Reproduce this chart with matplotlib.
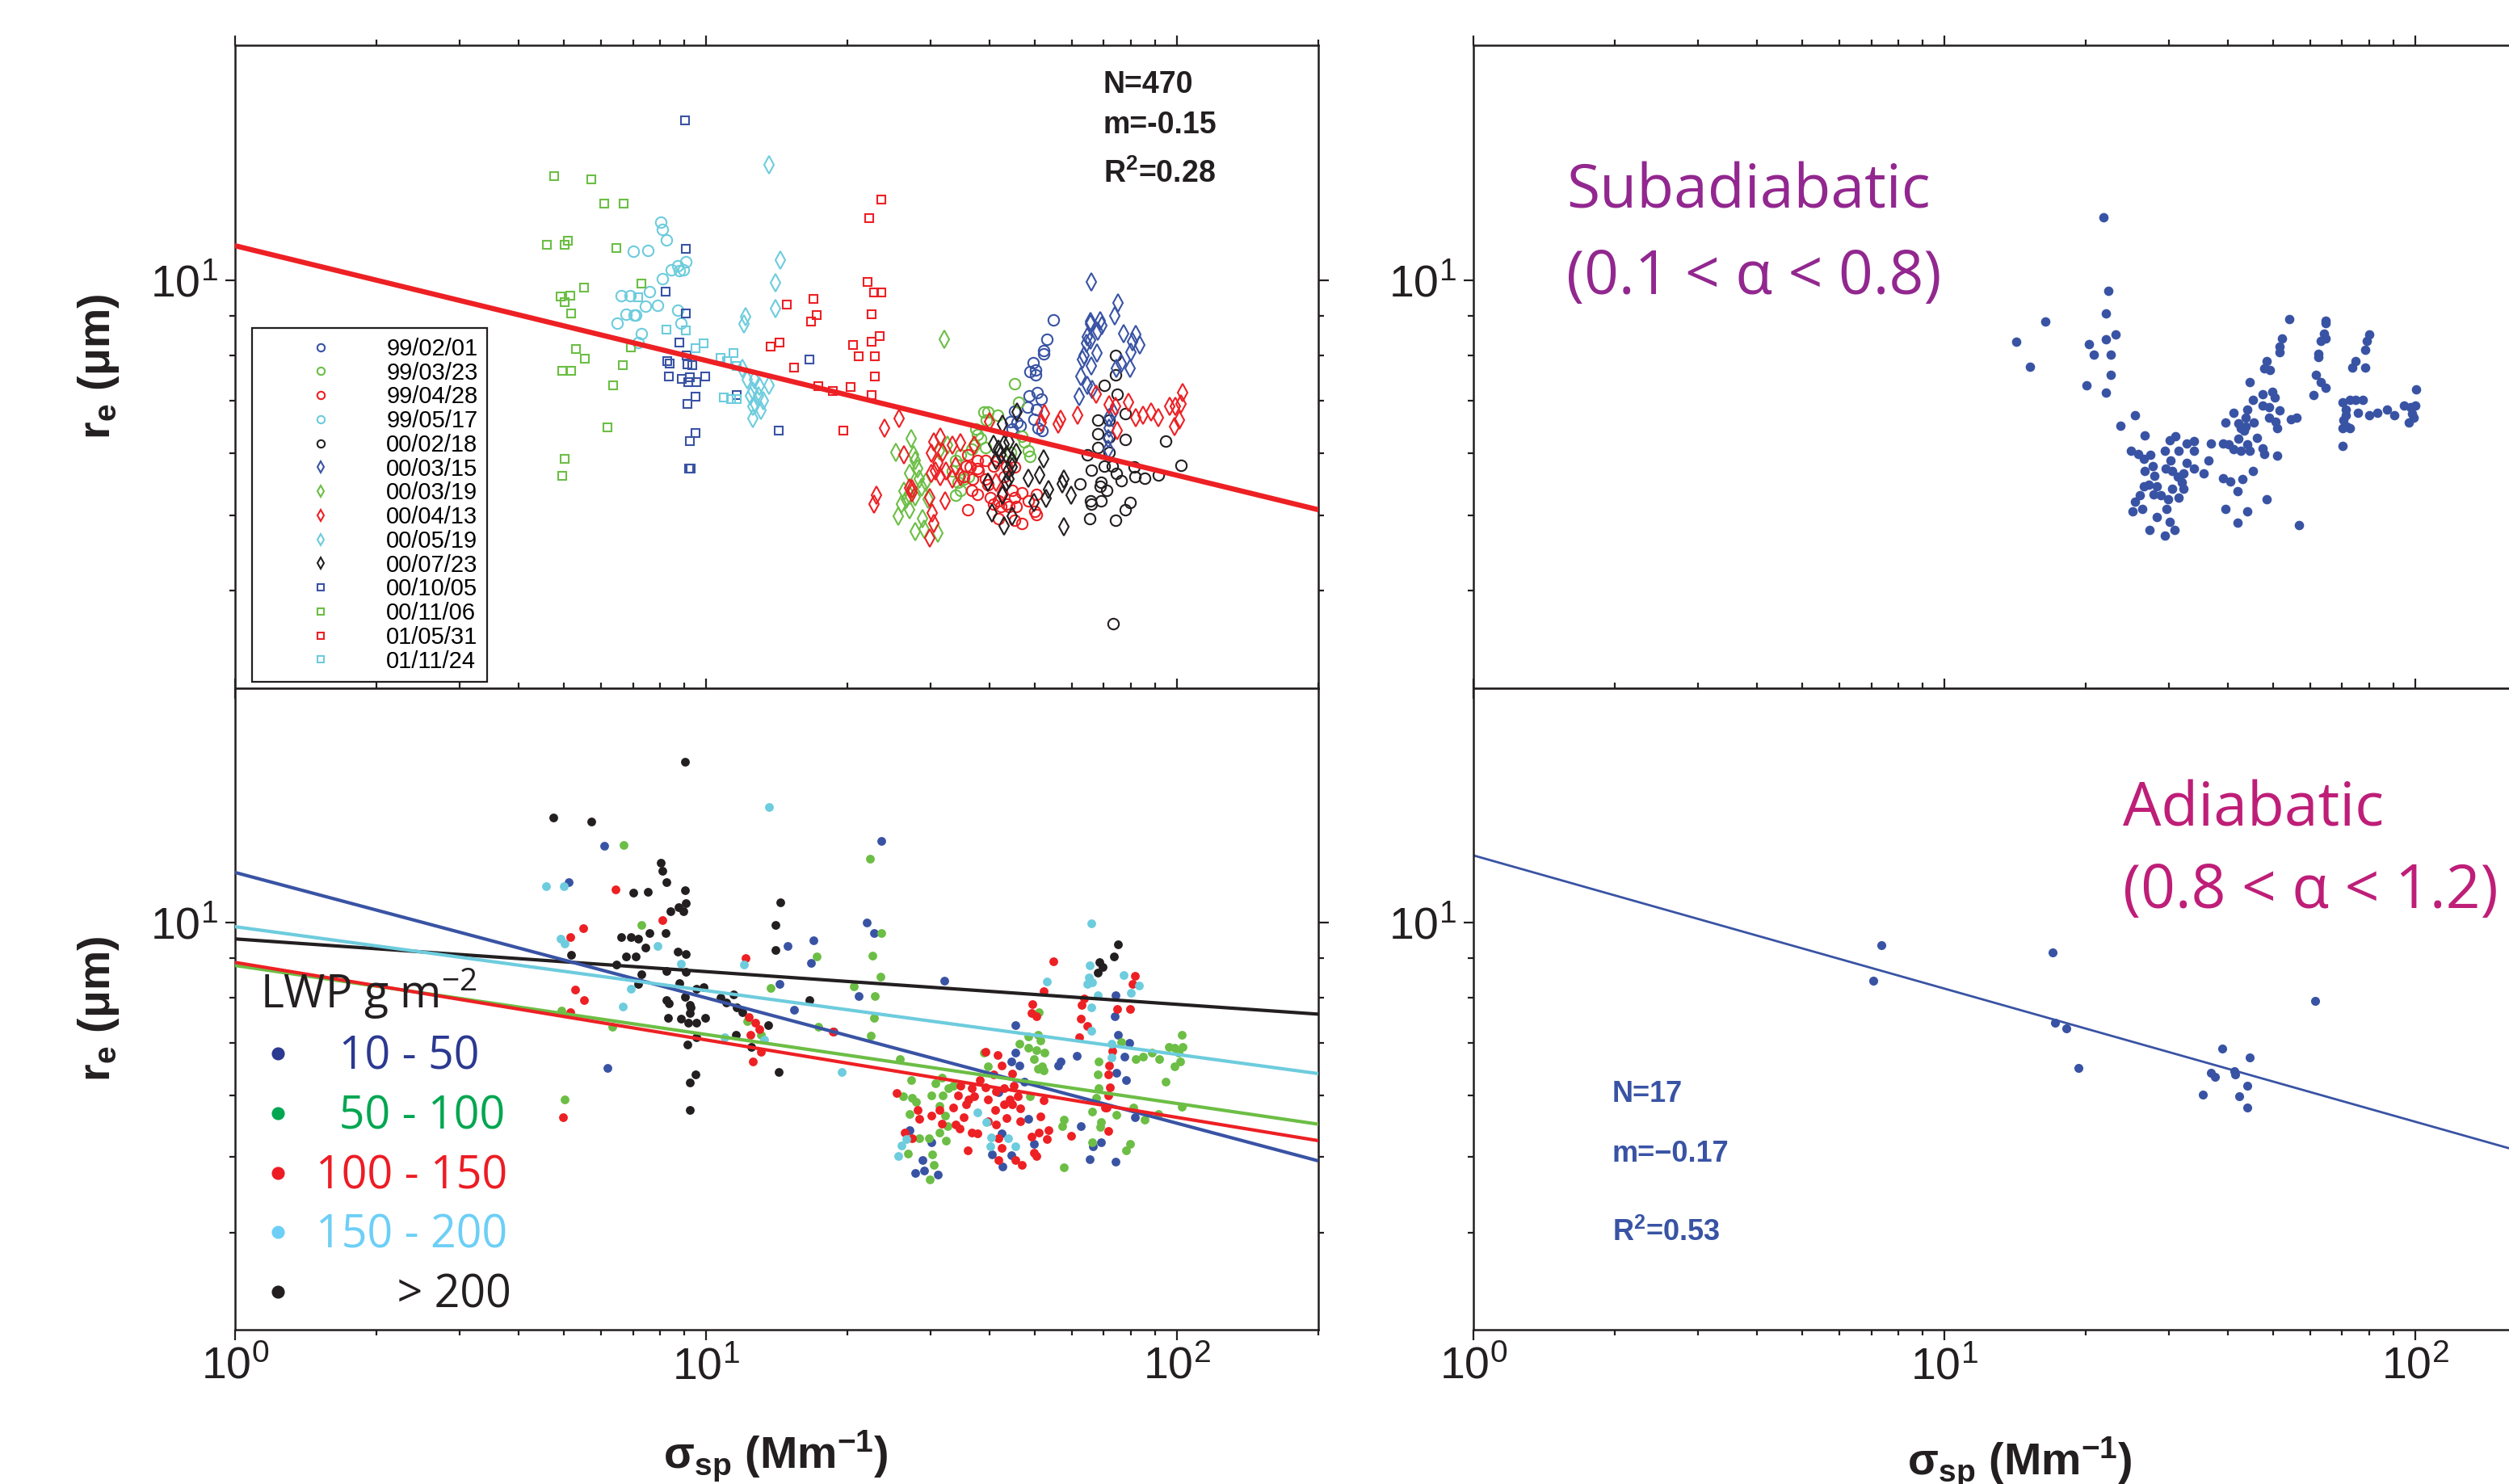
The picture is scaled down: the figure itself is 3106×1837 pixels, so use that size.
import matplotlib
matplotlib.use('Agg')
import matplotlib.pyplot as plt
from matplotlib.ticker import FixedLocator, FixedFormatter, NullFormatter
from matplotlib.lines import Line2D

plt.rcParams['mathtext.default'] = 'regular'

BLUE = '#3953A4'
GREEN = '#6CBE45'
RED = '#ED2024'
CYAN = '#6DCCDD'
BLACK = '#231F20'

# ---------------- axes scales ----------------
x_major = [1, 10, 100]
x_minor = [2, 3, 4, 5, 6, 7, 8, 9, 20, 30, 40, 50, 60, 70, 80, 90, 200]
x_tick_labels = ['$10^{0}$', '$10^{1}$', '$10^{2}$']
y_major = [10]
y_minor = [4, 5, 6, 7, 8, 9]
y_tick_labels = ['$10^{1}$']

# ---------------- top-left: flight days (sigma_sp, r_e) ----------------
d990201 = [(54.7, 8.90), (53.1, 8.39), (52.2, 8.12), (52.2, 8.04), (49.5, 7.84), (48.9, 7.64),
           (50.2, 7.67), (50.2, 7.56), (48.6, 7.11), (50.6, 7.17), (51.6, 7.04), (48.3, 6.87),
           (50.4, 6.82), (45.3, 6.79), (49.7, 6.63), (44.4, 6.59), (45.9, 6.57), (46.5, 6.51),
           (51.7, 6.41), (50.7, 6.46), (44.7, 6.44)]
d990323 = [(45.3, 7.36), (46.2, 6.97), (38.9, 6.78), (39.7, 6.78), (41.6, 6.72), (39.5, 6.62),
           (37.4, 6.44), (37.7, 6.34), (38.4, 6.26), (37.2, 6.14), (36.7, 6.07), (39.2, 6.11),
           (47.5, 6.21), (48.4, 6.04), (48.9, 5.95), (44.4, 6.02), (34.8, 5.97), (33.9, 5.88),
           (33.4, 5.69), (34.4, 5.51), (35.3, 5.56), (36.2, 5.60), (34.8, 5.38), (33.9, 5.30),
           (46.9, 6.31)]
d990428 = [(36.0, 5.97), (35.7, 5.78), (36.5, 5.76), (37.7, 5.74), (39.2, 5.88), (40.8, 5.78),
           (36.9, 5.56), (35.3, 5.60), (37.9, 5.69), (39.2, 5.56), (36.7, 5.38), (37.7, 5.32),
           (39.7, 5.47), (40.2, 5.26), (41.9, 5.22), (43.6, 5.17), (45.3, 5.26), (46.9, 5.34),
           (44.7, 5.38), (40.8, 5.16), (42.4, 5.13), (44.1, 5.13), (45.6, 5.13), (48.4, 5.22),
           (50.4, 5.32), (50.0, 5.05), (50.4, 5.01), (36.0, 5.08), (41.9, 4.95), (45.3, 4.93),
           (46.9, 4.88), (41.6, 5.88), (43.6, 5.78), (45.3, 5.76), (43.0, 5.60), (37.7, 5.88)]
d990517 = [(8.02, 11.87), (8.08, 11.61), (8.26, 11.25), (7.01, 10.90), (7.54, 10.91), (9.07, 10.56),
           (8.73, 10.43), (8.45, 10.30), (8.77, 10.29), (8.96, 10.30), (8.08, 10.04), (7.58, 9.66),
           (6.60, 9.55), (6.90, 9.55), (7.45, 9.26), (7.89, 9.29), (8.72, 9.15), (6.76, 9.04),
           (7.04, 9.03), (7.10, 9.03), (6.48, 8.81), (8.86, 8.81), (7.30, 8.55), (7.18, 8.32)]
d000218 = [(74.1, 8.01), (74.1, 7.56), (70.1, 7.33), (74.9, 7.15), (77.9, 6.74), (68.1, 6.62),
           (71.8, 6.62), (67.9, 6.36), (77.9, 6.25), (94.7, 6.22), (68.1, 6.11), (64.7, 5.98),
           (71.9, 6.02), (70.1, 5.78), (72.9, 5.78), (81.1, 5.76), (102.1, 5.79), (66.0, 5.71),
           (74.4, 5.65), (81.6, 5.60), (85.4, 5.57), (91.3, 5.63), (76.4, 5.54), (62.4, 5.48),
           (69.2, 5.51), (68.7, 5.45), (71.0, 5.38), (65.6, 5.22), (66.0, 5.16), (69.2, 5.22),
           (79.8, 5.19), (77.9, 5.08), (65.4, 4.95), (74.1, 4.93), (73.4, 3.63), (71.9, 6.29)]
d000315 = [(65.8, 9.94), (75.2, 9.34), (73.8, 9.01), (65.6, 8.85), (68.7, 8.88), (69.5, 8.74),
           (68.0, 8.60), (65.6, 8.78), (77.1, 8.54), (81.8, 8.53), (80.5, 8.33), (83.6, 8.27),
           (64.7, 8.47), (64.3, 8.30), (65.6, 8.37), (67.8, 8.06), (63.5, 8.01), (63.1, 7.91),
           (66.0, 7.76), (76.4, 7.82), (79.5, 7.71), (80.0, 8.09), (74.4, 7.70), (62.5, 7.52),
           (64.7, 7.34), (66.2, 7.25), (62.0, 7.09), (71.9, 6.67), (73.4, 6.78), (71.9, 6.46),
           (71.5, 6.26), (71.5, 6.07)]
d000319 = [(32.1, 8.40), (27.3, 6.27), (25.3, 6.02), (27.6, 5.97), (27.8, 5.88), (28.2, 5.74),
           (27.1, 5.65), (28.4, 5.56), (28.7, 5.43), (26.4, 5.36), (27.1, 5.30), (27.8, 5.28),
           (26.7, 5.24), (26.0, 5.16), (27.1, 5.08), (25.6, 4.99), (28.9, 4.95), (29.7, 5.24),
           (27.8, 4.76), (29.1, 4.80), (31.1, 4.74), (31.3, 6.04), (32.6, 6.14), (29.3, 5.51)]
d000413 = [(25.7, 6.65), (24.0, 6.46), (26.3, 5.97), (27.4, 5.40), (23.0, 5.30), (22.8, 5.16),
           (30.5, 6.20), (31.5, 6.29), (30.1, 6.00), (31.9, 6.02), (33.4, 6.14), (34.8, 6.19),
           (37.2, 6.14), (31.1, 5.83), (30.7, 5.69), (32.4, 5.69), (33.9, 5.78), (33.4, 5.56),
           (34.8, 5.60), (31.5, 5.60), (30.1, 5.65), (29.9, 5.26), (32.2, 5.22), (30.3, 5.03),
           (30.5, 4.88), (29.9, 4.67), (40.1, 6.58), (52.3, 6.75), (51.6, 6.57), (56.8, 6.63),
           (56.0, 6.54), (61.6, 6.72), (67.5, 7.14), (71.9, 6.92), (74.2, 6.89), (78.9, 6.97),
           (81.9, 6.66), (84.9, 6.72), (88.3, 6.78), (91.5, 6.67), (96.6, 6.89), (99.5, 6.89),
           (102.8, 7.17), (102.1, 6.94), (101.5, 6.62), (98.8, 6.49), (74.9, 6.41), (39.7, 5.51),
           (41.3, 5.51), (42.7, 5.34), (27.1, 5.42), (27.4, 5.34)]
d000519 = [(13.62, 14.05), (14.40, 10.60), (14.08, 9.93), (14.08, 9.20), (12.15, 8.98), (12.07, 8.79),
           (11.94, 7.70), (12.26, 7.46), (12.67, 7.46), (12.97, 7.31), (13.62, 7.33), (12.59, 7.22),
           (12.93, 7.11), (12.42, 7.11), (13.27, 7.00), (12.59, 6.89), (13.09, 6.81), (12.76, 6.94),
           (12.59, 6.65)]
d000723 = [(45.8, 6.78), (42.7, 6.54), (40.8, 6.16), (41.9, 6.07), (43.0, 6.16), (44.1, 6.21),
           (43.6, 5.97), (44.7, 5.88), (42.4, 5.97), (45.6, 6.02), (41.3, 5.88), (43.9, 5.69),
           (44.7, 5.76), (52.1, 5.90), (51.2, 5.63), (48.4, 5.58), (44.1, 5.56), (39.7, 5.51),
           (53.5, 5.39), (57.5, 5.56), (57.1, 5.48), (59.8, 5.30), (49.7, 5.19), (52.8, 5.25),
           (42.7, 5.30), (40.5, 5.03), (44.7, 4.99), (43.0, 4.84), (57.7, 4.83), (43.6, 5.51)]
d001005 = [(9.03, 16.03), (9.07, 10.96), (8.21, 9.66), (9.07, 9.07), (8.77, 8.32), (9.12, 8.00),
           (8.28, 7.88), (8.39, 7.82), (9.15, 7.81), (9.35, 7.78), (8.33, 7.52), (8.88, 7.48),
           (9.24, 7.51), (9.18, 7.40), (9.56, 7.40), (9.97, 7.52), (9.49, 7.09), (9.13, 6.94),
           (11.63, 7.13), (9.51, 6.37), (9.25, 6.22), (14.30, 6.41), (16.57, 7.91), (9.22, 5.74),
           (9.29, 5.73)]
d001106 = [(4.77, 13.59), (5.71, 13.45), (6.08, 12.53), (6.68, 12.55), (4.59, 11.10), (5.01, 11.11),
           (5.09, 11.23), (6.45, 11.00), (7.31, 9.89), (5.51, 9.79), (4.91, 9.52), (5.15, 9.55),
           (5.01, 9.37), (5.17, 9.06), (5.29, 8.17), (5.53, 7.93), (4.96, 7.66), (5.17, 7.65),
           (6.67, 7.78), (6.92, 8.20), (6.35, 7.34), (6.19, 6.48), (5.02, 5.91), (4.96, 5.61)]
d010531 = [(23.57, 12.68), (22.24, 12.02), (22.09, 9.94), (22.80, 9.65), (23.63, 9.65), (22.53, 9.05),
           (23.45, 8.49), (22.53, 8.33), (20.54, 8.26), (21.12, 7.99), (22.87, 7.99), (22.9, 7.53),
           (20.33, 7.29), (22.5, 7.12), (18.58, 7.21), (17.35, 7.31), (14.88, 9.30), (16.96, 9.46),
           (17.19, 9.03), (16.72, 8.85), (14.34, 8.32), (13.71, 8.22), (15.40, 7.72), (19.62, 6.41)]
d011124 = [(7.17, 9.51), (8.25, 8.64), (9.07, 8.62), (9.51, 8.18), (9.89, 8.30), (10.75, 7.96),
           (11.07, 7.88), (11.46, 8.07), (11.64, 7.77), (10.91, 7.08), (11.32, 7.04), (11.63, 7.05)]

day_labels = ['99/02/01', '99/03/23', '99/04/28', '99/05/17', '00/02/18', '00/03/15', '00/03/19',
              '00/04/13', '00/05/19', '00/07/23', '00/10/05', '00/11/06', '01/05/31', '01/11/24']
day_data = [d990201, d990323, d990428, d990517, d000218, d000315, d000319,
            d000413, d000519, d000723, d001005, d001106, d010531, d011124]
day_colors = [BLUE, GREEN, RED, CYAN, BLACK] * 2 + [BLUE, GREEN, RED, CYAN]
day_markers = ['o'] * 5 + ['d'] * 5 + ['s'] * 4
all_fit = (11.07, -0.147)   # r_e = a * sigma^m

# ---------------- bottom-left: by LWP class ----------------
lwp_10_50 = [(6.08, 12.56), (5.11, 11.26), (6.18, 6.51), (14.89, 9.33), (16.94, 9.50), (16.72, 8.88),
             (14.36, 8.35), (15.41, 7.73), (18.66, 7.24), (23.6, 12.72), (22.0, 10.0), (22.8, 9.69),
             (21.1, 8.04), (32.1, 8.43), (45.4, 7.38), (74.1, 8.06), (73.9, 7.58), (75.1, 7.18),
             (79.3, 7.00), (77.5, 6.73), (61.4, 6.74), (56.8, 6.63), (56.0, 6.56), (45.4, 6.81),
             (44.5, 6.63), (46.3, 6.56), (47.4, 6.24), (78.0, 6.27), (48.5, 5.60), (62.7, 5.48),
             (69.2, 5.22), (66.5, 5.16), (65.5, 4.97), (74.2, 4.93), (28.9, 4.96), (27.8, 4.77),
             (29.1, 4.80), (31.1, 4.75), (30.1, 5.22), (42.7, 4.86), (40.5, 5.04), (44.5, 5.03),
             (49.7, 5.20), (74.4, 6.42), (81.6, 5.63), (42.5, 5.36), (27.1, 5.41), (41.9, 6.05)]
lwp_50_100 = [(6.68, 12.59), (7.30, 9.92), (4.94, 7.71), (6.33, 7.35), (5.02, 5.93), (17.21, 9.05),
              (13.71, 8.24), (17.33, 7.35), (12.26, 7.47), (13.09, 7.18), (22.3, 12.07), (23.6, 9.69),
              (22.6, 9.07), (23.5, 8.53), (22.9, 8.04), (20.6, 8.28), (22.4, 7.16), (22.8, 7.55),
              (25.8, 6.68), (27.3, 6.28), (30.1, 6.00), (27.4, 5.95), (28.0, 5.89), (26.2, 5.99),
              (27.1, 5.68), (31.3, 5.81), (32.2, 5.65), (33.5, 6.17), (31.7, 6.32), (30.7, 6.22),
              (31.9, 6.00), (32.6, 5.48), (31.3, 5.37), (32.4, 5.25), (28.4, 5.29), (29.8, 5.29),
              (30.3, 5.04), (30.5, 4.88), (29.9, 4.68), (26.9, 5.05), (46.3, 6.99), (48.5, 7.15),
              (50.7, 7.18), (51.4, 7.06), (48.5, 6.90), (50.4, 6.86), (52.4, 6.81), (49.7, 6.68),
              (51.8, 6.53), (50.7, 6.49), (52.1, 6.46), (48.8, 5.98), (39.0, 6.81), (39.7, 6.53),
              (68.3, 6.63), (67.9, 6.38), (68.3, 6.13), (67.4, 5.95), (66.1, 5.72), (74.4, 5.66),
              (69.2, 5.55), (68.8, 5.46), (66.1, 5.22), (78.0, 5.10), (79.5, 5.20), (57.5, 5.59),
              (57.1, 5.48), (57.7, 4.85), (76.4, 7.02), (81.9, 6.68), (84.9, 6.73), (88.7, 6.81),
              (92.0, 6.68), (96.3, 6.93), (98.9, 6.90), (100.8, 6.81), (102.9, 6.93), (102.7, 7.18),
              (101.6, 6.63), (98.9, 6.53), (94.8, 6.24), (102.6, 5.80), (81.0, 5.79), (85.5, 5.59),
              (91.3, 5.68), (32.8, 6.13), (50.9, 7.68)]
lwp_100_150 = [(6.44, 11.03), (5.50, 9.83), (5.15, 9.58), (8.08, 10.07), (5.28, 8.20), (5.52, 7.95),
               (5.16, 7.68), (4.97, 5.63), (12.15, 9.00), (12.34, 7.56), (12.75, 7.44), (13.01, 7.29),
               (12.42, 7.18), (13.09, 6.82), (12.59, 6.63), (18.6, 7.24), (54.8, 8.92), (52.2, 8.17),
               (49.4, 7.86), (49.1, 7.65), (50.4, 7.58), (63.5, 7.99), (62.9, 7.83), (81.6, 8.55),
               (80.6, 8.35), (74.9, 7.74), (79.5, 7.74), (62.5, 7.53), (64.5, 7.36), (62.0, 7.13),
               (73.0, 6.84), (72.0, 6.55), (71.6, 6.39), (72.1, 6.15), (71.6, 6.00), (71.0, 5.79),
               (39.2, 6.82), (41.6, 6.76), (42.5, 6.55), (44.8, 6.40), (40.8, 6.39), (38.2, 6.27),
               (39.2, 6.15), (36.7, 6.13), (34.8, 6.17), (43.0, 6.13), (45.1, 6.17), (41.4, 6.07),
               (37.2, 5.98), (34.4, 6.00), (36.2, 5.93), (39.7, 5.93), (44.2, 5.93), (46.0, 5.98),
               (43.0, 5.84), (35.7, 5.84), (33.5, 5.79), (31.3, 5.75), (28.2, 5.75), (30.1, 5.65),
               (31.7, 5.52), (28.4, 5.60), (35.3, 5.63), (41.1, 5.75), (44.8, 5.84), (46.6, 5.77),
               (43.6, 5.61), (46.6, 5.56), (39.7, 5.56), (41.4, 5.50), (33.9, 5.50), (34.6, 5.44),
               (36.7, 5.37), (37.7, 5.36), (26.5, 5.38), (27.4, 5.29), (25.4, 6.04), (36.0, 5.10),
               (41.9, 5.29), (42.5, 5.14), (41.9, 4.96), (45.4, 4.96), (46.9, 4.88), (49.1, 5.31),
               (50.9, 5.37), (53.0, 5.27), (53.5, 5.41), (49.7, 5.06), (50.4, 5.02), (51.3, 5.64),
               (52.1, 5.91), (59.8, 5.32), (71.6, 5.40), (70.6, 5.79)]
lwp_150_200 = [(13.62, 14.08), (4.58, 11.13), (4.99, 11.13), (4.91, 9.54), (5.01, 9.39), (7.89, 9.33),
               (8.85, 8.86), (6.92, 8.22), (6.66, 7.81), (12.07, 8.83), (13.30, 7.07), (10.96, 7.12),
               (19.4, 6.43), (65.9, 9.97), (65.5, 8.82), (65.2, 8.51), (64.6, 8.35), (66.1, 8.39),
               (68.0, 8.07), (66.0, 7.79), (77.1, 8.56), (80.0, 8.12), (83.2, 8.30), (53.1, 8.41),
               (65.9, 7.26), (72.8, 6.99), (72.8, 6.71), (37.8, 5.71), (39.5, 5.54), (43.8, 5.28),
               (40.3, 5.30), (40.2, 5.16), (45.5, 5.16), (26.7, 5.27), (26.0, 5.17), (25.6, 5.01)]
lwp_gt_200 = [(9.02, 16.08), (4.75, 13.64), (5.70, 13.49), (8.01, 11.93), (8.08, 11.65), (8.26, 11.27),
              (9.04, 11.00), (7.01, 10.93), (7.52, 10.96), (9.07, 10.60), (8.42, 10.35), (8.75, 10.47),
              (8.96, 10.35), (5.17, 9.10), (6.60, 9.58), (6.93, 9.58), (7.18, 9.53), (7.59, 9.69),
              (8.23, 9.69), (7.45, 9.28), (6.76, 9.05), (7.09, 9.05), (6.46, 8.84), (7.30, 8.58),
              (7.18, 8.35), (8.25, 8.67), (8.73, 9.17), (9.07, 9.11), (9.07, 8.64), (8.77, 8.37),
              (9.54, 8.22), (9.90, 8.27), (8.25, 7.96), (8.36, 7.87), (9.04, 8.02), (9.23, 7.84),
              (9.23, 7.65), (9.28, 7.78), (8.30, 7.55), (8.87, 7.52), (9.17, 7.44), (9.56, 7.43),
              (9.96, 7.55), (9.13, 6.97), (9.54, 7.12), (9.50, 6.39), (9.25, 6.23), (9.25, 5.75),
              (14.08, 9.94), (14.40, 10.61), (14.08, 9.22), (16.57, 7.95), (14.29, 6.43), (11.47, 8.09),
              (11.03, 7.90), (10.74, 8.00), (11.63, 7.78), (11.94, 7.68), (13.59, 7.39), (11.58, 7.18),
              (12.50, 6.93), (75.2, 9.37), (73.7, 9.05), (68.6, 8.89), (69.7, 8.77), (68.1, 8.63)]

lwp_labels = ['  10 - 50', '  50 - 100', '100 - 150', '150 - 200', '       > 200']
lwp_key_colors = ['#2B3990', '#00A651', '#ED1C24', '#6DCFF6', BLACK]
lwp_fits = {'>200': (9.53, -0.042), '10-50': (11.6, -0.161), '150-200': (9.88, -0.082),
            '50-100': (8.81, -0.0886), '100-150': (8.89, -0.0995)}
lwp_fit_colors = {'>200': BLACK, '10-50': BLUE, '150-200': CYAN, '50-100': GREEN, '100-150': RED}

# ---------------- right panels ----------------
subadiabatic = [(21.8, 12.04), (22.3, 9.69), (22.1, 9.06), (16.4, 8.86), (14.2, 8.34), (20.3, 8.28),
                (22.1, 8.40), (23.1, 8.53), (20.8, 8.03), (22.6, 8.03), (15.2, 7.74), (22.6, 7.56),
                (20.1, 7.34), (22.1, 7.18), (25.4, 6.71), (23.7, 6.51), (26.7, 6.32), (24.9, 6.04),
                (25.8, 5.99), (26.6, 5.90), (27.4, 5.97), (27.7, 5.78), (26.7, 5.69), (28.0, 5.61),
                (29.4, 6.04), (30.1, 6.24), (31.0, 6.31), (31.5, 6.04), (32.7, 6.17), (33.9, 6.22),
                (33.9, 6.04), (30.3, 5.87), (29.6, 5.74), (30.5, 5.69), (31.3, 5.60), (32.2, 5.65),
                (32.7, 5.83), (33.9, 5.74), (35.6, 5.65), (36.5, 5.87), (36.8, 6.18), (26.6, 5.45),
                (27.2, 5.47), (28.3, 5.45), (26.0, 5.30), (25.4, 5.20), (27.9, 5.32), (28.9, 5.30),
                (29.9, 5.24), (30.5, 5.41), (32.2, 5.41), (31.5, 5.26), (32.0, 5.51), (25.1, 5.05),
                (26.4, 5.09), (29.7, 5.09), (28.3, 4.97), (30.1, 4.90), (27.3, 4.79), (29.4, 4.71),
                (30.8, 4.79), (39.1, 5.57), (40.6, 5.52), (43.0, 5.56), (45.2, 5.69), (42.0, 5.36),
                (48.5, 5.24), (39.6, 5.09), (44.0, 5.05), (42.0, 4.89), (56.6, 4.86), (39.1, 6.18),
                (40.2, 6.16), (41.1, 6.07), (42.7, 6.04), (44.0, 6.16), (44.6, 6.04), (46.1, 6.28),
                (47.5, 6.09), (47.9, 5.99), (50.9, 5.96), (42.1, 6.26), (43.4, 6.41), (42.7, 6.46),
                (43.7, 6.49), (39.6, 6.57), (42.1, 6.55), (41.1, 6.77), (44.0, 6.83), (43.7, 6.67),
                (45.4, 6.57), (45.2, 7.03), (47.4, 7.14), (47.4, 6.91), (49.0, 6.88), (51.5, 6.81),
                (49.8, 7.19), (50.4, 7.07), (49.0, 6.67), (50.5, 6.59), (50.9, 6.46), (44.6, 7.40),
                (54.5, 6.63), (56.0, 6.67), (48.5, 7.87), (47.9, 7.70), (49.2, 7.67), (51.5, 8.09),
                (51.5, 8.23), (52.1, 8.41), (54.1, 8.92), (60.9, 7.13), (61.6, 7.56), (63.0, 7.40),
                (64.5, 7.28), (62.3, 8.04), (62.3, 7.98), (63.0, 8.35), (64.0, 8.55), (64.6, 8.41),
                (64.6, 8.88), (64.6, 8.80), (70.3, 6.97), (72.8, 7.03), (74.7, 7.03), (77.4, 7.02),
                (71.2, 6.83), (71.2, 6.72), (70.6, 6.62), (75.6, 6.77), (71.7, 6.49), (70.3, 6.46),
                (72.8, 6.46), (70.3, 6.13), (80.0, 6.71), (83.1, 6.77), (87.1, 6.82), (90.3, 6.71),
                (94.8, 6.91), (98.0, 6.88), (100.3, 6.91), (98.7, 6.75), (99.5, 6.67), (97.0, 6.57),
                (100.6, 7.24), (73.6, 7.73), (74.7, 7.87), (78.3, 7.73), (78.3, 8.15), (79.1, 8.35),
                (80.1, 8.53)]
adiabatic = [(7.36, 9.36), (7.07, 8.42), (16.97, 9.15), (17.2, 7.43), (18.2, 7.32), (19.3, 6.51),
             (36.9, 6.42), (37.6, 6.33), (38.9, 6.89), (41.5, 6.39), (44.6, 6.71), (35.5, 6.01),
             (42.4, 5.99), (44.1, 6.18), (44.0, 5.79), (61.4, 7.93), (41.3, 6.45)]
adiabatic_fit = (12.2, -0.171)
fit_x = [1, 200]


def unzip(pairs):
    return [p[0] for p in pairs], [p[1] for p in pairs]


def fit_line(a, m):
    return fit_x, [a * x ** m for x in fit_x]


W, H = 3106, 1837


def box(x0, y0, x1, y1):
    return [x0 / W, 1 - y1 / H, (x1 - x0) / W, (y1 - y0) / H]


NARROW = ['Liberation Sans Narrow', 'Liberation Sans']
HELV = ['Liberation Sans']


def style(ax, font, show_x):
    ax.set_xscale('log')
    ax.set_yscale('log')
    ax.set_xlim(1, 200)
    ax.set_ylim(3, 20)
    ax.xaxis.set_major_locator(FixedLocator(x_major))
    ax.xaxis.set_minor_locator(FixedLocator(x_minor))
    ax.xaxis.set_major_formatter(FixedFormatter(x_tick_labels))
    ax.xaxis.set_minor_formatter(NullFormatter())
    ax.yaxis.set_major_locator(FixedLocator(y_major))
    ax.yaxis.set_minor_locator(FixedLocator(y_minor))
    ax.yaxis.set_major_formatter(FixedFormatter(y_tick_labels))
    ax.yaxis.set_minor_formatter(NullFormatter())
    ax.tick_params(which='both', direction='out', top=True, right=True,
                   width=0.8, color=BLACK)
    ax.tick_params(which='major', length=4.5, pad=3, labelsize=20,
                   labelfontfamily=font, labelcolor=BLACK)
    ax.tick_params(which='minor', length=2.5)
    ax.tick_params(labelbottom=show_x)
    for s in ax.spines.values():
        s.set_linewidth(0.9)
        s.set_color(BLACK)


fig = plt.figure(figsize=(15.53, 9.185), dpi=200)

ax_tl = fig.add_axes(box(291, 56, 1632, 852))
ax_bl = fig.add_axes(box(291, 852, 1632, 1646))
ax_tr = fig.add_axes(box(1824, 56, 3165, 852))
ax_br = fig.add_axes(box(1824, 852, 3165, 1646))

style(ax_tl, NARROW, False)
style(ax_bl, NARROW, True)
style(ax_tr, HELV, False)
style(ax_br, HELV, True)

# top-left
for lab, pts, col, mk in zip(day_labels, day_data, day_colors, day_markers):
    xs, ys = unzip(pts)
    ms = {'o': 4.8, 'd': 5.4, 's': 3.8}[mk]
    ax_tl.plot(xs, ys, ls='none', marker=mk, mfc='none', mec=col, ms=ms, mew=0.75, label=lab)
fx, fy = fit_line(*all_fit)
ax_tl.plot(fx, fy, color=RED, lw=2.3, zorder=5)
leg = ax_tl.legend(loc='upper left', bbox_to_anchor=(0.0157, 0.560), borderaxespad=0,
                   prop={'family': NARROW, 'size': 10.5}, handlelength=5, handletextpad=0.3,
                   labelspacing=0.06, borderpad=0.4, fancybox=False, edgecolor=BLACK,
                   framealpha=1, markerscale=0.7)
leg.get_frame().set_linewidth(0.8)

# bottom-left
for pts, col in zip([lwp_gt_200, lwp_10_50, lwp_50_100, lwp_100_150, lwp_150_200],
                    [BLACK, BLUE, GREEN, RED, CYAN]):
    xs, ys = unzip(pts)
    ax_bl.plot(xs, ys, ls='none', marker='o', mfc=col, mec=col, ms=3.9, mew=0)
for key in lwp_fits:
    fx, fy = fit_line(*lwp_fits[key])
    ax_bl.plot(fx, fy, color=lwp_fit_colors[key], lw=1.5, zorder=5)
handles = [Line2D([], [], ls='none', marker='o', color=c, ms=4.8) for c in lwp_key_colors]
leg2 = ax_bl.legend(handles, lwp_labels, loc='upper left', bbox_to_anchor=(0.023, 0.567),
                    borderaxespad=0, frameon=False, prop={'family': 'Open Sans', 'size': 20},
                    title='LWP g m$^{-2}$', title_fontproperties={'family': 'Open Sans', 'size': 20},
                    alignment='left', handlelength=0.8, handletextpad=0.45, labelspacing=0.3,
                    borderpad=0)
for t, c in zip(leg2.get_texts(), lwp_key_colors):
    t.set_color(c)
leg2.get_title().set_color(BLACK)

# top-right
xs, ys = unzip(subadiabatic)
ax_tr.plot(xs, ys, ls='none', marker='o', mfc=BLUE, mec=BLUE, ms=4.2, mew=0)

# bottom-right
xs, ys = unzip(adiabatic)
ax_br.plot(xs, ys, ls='none', marker='o', mfc=BLUE, mec=BLUE, ms=4.0, mew=0)
fx, fy = fit_line(*adiabatic_fit)
ax_br.plot(fx, fy, color=BLUE, lw=1.0)


# annotation text
def fpos(px, py):
    return px / W, 1 - py / H


for txt, py in [('N=470', 105), ('m=-0.15', 155), ('R$^2$=0.28', 215)]:
    fig.text(*fpos(1366, py), txt, family=NARROW, weight='bold', size=13.5, va='center', color=BLACK)

for txt, py in [('N=17', 1355), ('m=\u22120.17', 1429), ('R$^2$=0.53', 1526)]:
    fig.text(*fpos(1996, py), txt, family=HELV, weight='bold', size=13,
             va='center', color=BLUE)

fig.text(*fpos(1939, 238), 'Subadiabatic', family='Open Sans', size=27, va='center', color='#92278F')
fig.text(*fpos(1939, 345), '(0.1 < \u03b1 < 0.8)', family='Open Sans', size=27, va='center', color='#92278F')
fig.text(*fpos(2628, 1003), 'Adiabatic', family='Open Sans', size=27, va='center', color='#BE1E78')
fig.text(*fpos(2628, 1104), '(0.8 < \u03b1 < 1.2)', family='Open Sans', size=27, va='center', color='#BE1E78')

for py in (454, 1249):
    fig.text(*fpos(122, py), 'r$_e$ (\u03bcm)', family=HELV, weight='bold', size=20,
             rotation=90, ha='center', va='center', color=BLACK)

fig.text(*fpos(960, 1818), '\u03c3$_{sp}$ (Mm$^{-1}$)', family=NARROW, weight='bold', size=20,
         ha='center', va='baseline', color=BLACK)
fig.text(*fpos(2500, 1826), '\u03c3$_{sp}$ (Mm$^{-1}$)', family=HELV, weight='bold', size=20,
         ha='center', va='baseline', color=BLACK)

fig.savefig('out.png', dpi=200, facecolor='white')
